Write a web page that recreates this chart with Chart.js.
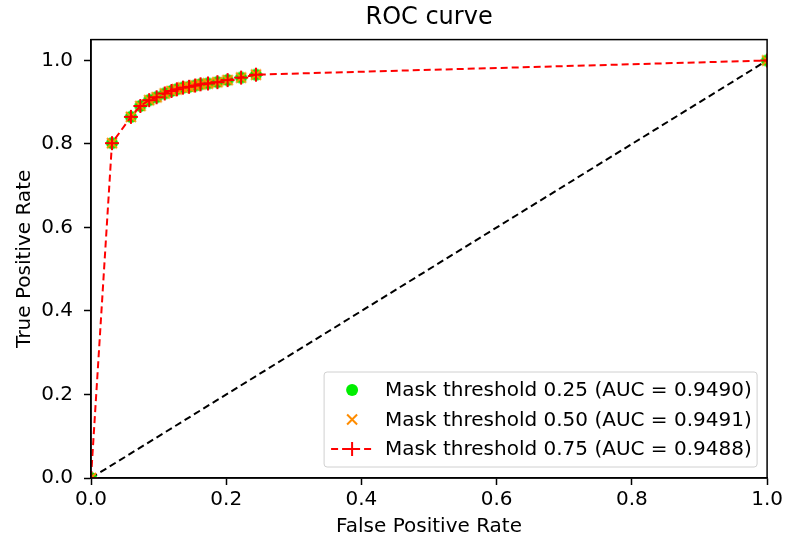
<!DOCTYPE html>
<html>
<head>
<meta charset="utf-8">
<script src="https://cdn.jsdelivr.net/npm/chart.js@4"></script>
<style>
  body { margin: 0; background: #fff; }
  canvas { display: block; }
</style>
</head>
<body>
<canvas id="roc" width="786" height="540"></canvas>
<script>
// ROC points (all three thresholds overlap)
const fpr = [0, 0.031, 0.059, 0.073, 0.086, 0.097, 0.109, 0.119, 0.127, 0.136, 0.145, 0.154, 0.162, 0.173, 0.187, 0.202, 0.222, 0.244, 1.0];
const tpr = [0, 0.802, 0.865, 0.891, 0.905, 0.912, 0.921, 0.927, 0.931, 0.935, 0.937, 0.940, 0.943, 0.945, 0.948, 0.953, 0.959, 0.966, 1.0];
const seriesLabels = [
    'Mask threshold 0.25 (AUC = 0.9490)',
    'Mask threshold 0.50 (AUC = 0.9491)',
    'Mask threshold 0.75 (AUC = 0.9488)'
];
const chanceX = [0, 1];
const chanceY = [0, 1];
const tickValues = [0, 0.2, 0.4, 0.6, 0.8, 1.0];

const FONT = 'DejaVu Sans';

function toPoints(xs, ys) {
    return xs.map((x, i) => ({ x: x, y: ys[i] }));
}

// draw a marker the same way for plot and legend
function marker(ctx, kind, x, y) {
    ctx.save();
    if (kind === 'circle') {
        ctx.fillStyle = '#00ee00';
        ctx.beginPath();
        ctx.arc(x, y, 6, 0, Math.PI * 2);
        ctx.fill();
    } else if (kind === 'cross') {
        ctx.strokeStyle = '#ff8c00';
        ctx.lineWidth = 2;
        ctx.beginPath();
        ctx.moveTo(x - 5, y - 5); ctx.lineTo(x + 5, y + 5);
        ctx.moveTo(x - 5, y + 5); ctx.lineTo(x + 5, y - 5);
        ctx.stroke();
    } else {
        ctx.strokeStyle = '#ff0000';
        ctx.lineWidth = 2;
        ctx.beginPath();
        ctx.moveTo(x - 7, y); ctx.lineTo(x + 7, y);
        ctx.moveTo(x, y - 7); ctx.lineTo(x, y + 7);
        ctx.stroke();
    }
    ctx.restore();
}

// frame + legend inside the plot, like matplotlib
const frameAndLegend = {
    id: 'frameAndLegend',
    afterDatasetsDraw(chart) {
        const { ctx, chartArea: a } = chart;
        ctx.save();
        ctx.strokeStyle = '#000';
        ctx.lineWidth = 1.5;
        ctx.strokeRect(a.left, a.top, a.right - a.left, a.bottom - a.top);
        ctx.restore();
    },
    afterDraw(chart) {
        const { ctx, chartArea: a } = chart;
        const boxW = 433, boxH = 95, rowH = 29.5;
        const x0 = a.right - 10 - boxW;
        const y0 = a.bottom - 11 - boxH;
        ctx.save();
        ctx.fillStyle = 'rgba(255,255,255,0.85)';
        ctx.strokeStyle = '#d0d0d0';
        ctx.lineWidth = 1;
        ctx.beginPath();
        ctx.roundRect(x0, y0, boxW, boxH, 3);
        ctx.fill();
        ctx.stroke();

        const kinds = ['circle', 'cross', 'plus'];
        ctx.font = '20px "' + FONT + '"';
        ctx.fillStyle = '#000';
        ctx.textBaseline = 'middle';
        ctx.textAlign = 'left';
        seriesLabels.forEach((lab, i) => {
            const cy = y0 + 18 + rowH * i;
            const mx = x0 + 28;
            if (kinds[i] === 'plus') {
                ctx.save();
                ctx.strokeStyle = '#ff0000';
                ctx.lineWidth = 2;
                ctx.setLineDash([7, 4]);
                ctx.beginPath();
                ctx.moveTo(x0 + 7, cy); ctx.lineTo(x0 + 48, cy);
                ctx.stroke();
                ctx.restore();
            }
            marker(ctx, kinds[i], mx, cy);
            ctx.fillText(lab, x0 + 61, cy + 1);
        });
        ctx.restore();
    }
};

function markerStyle(kind) {
    const c = document.createElement('canvas');
    c.width = 18; c.height = 18;
    marker(c.getContext('2d'), kind, 9, 9);
    return c;
}

const axisCommon = {
    type: 'linear',
    min: 0,
    grid: { drawOnChartArea: false, drawTicks: true, tickLength: 7, tickColor: '#000', tickWidth: 1.5 },
    border: { display: true, color: '#000', width: 1.5 },
    afterBuildTicks: (scale) => { scale.ticks = tickValues.map(v => ({ value: v })); }
};

new Chart(document.getElementById('roc'), {
    type: 'scatter',
    data: {
        datasets: [
            {
                label: seriesLabels[2],
                data: toPoints(fpr, tpr),
                showLine: true,
                borderColor: '#ff0000',
                borderWidth: 2,
                borderDash: [7, 4],
                pointStyle: markerStyle('plus'),
                pointRadius: 7,
                order: 1
            },
            {
                label: seriesLabels[1],
                data: toPoints(fpr, tpr),
                showLine: false,
                pointStyle: markerStyle('cross'),
                pointRadius: 6,
                order: 2
            },
            {
                label: seriesLabels[0],
                data: toPoints(fpr, tpr),
                showLine: false,
                pointStyle: markerStyle('circle'),
                pointRadius: 6,
                order: 3
            },
            {
                label: '',
                data: toPoints(chanceX, chanceY),
                showLine: true,
                borderColor: '#000',
                borderWidth: 2,
                borderDash: [7, 4],
                pointRadius: 0,
                order: 4
            }
        ]
    },
    options: {
        responsive: false,
        animation: false,
        layout: { padding: { left: 0, right: 18, top: 0, bottom: 0 } },
        plugins: {
            legend: { display: false },
            tooltip: { enabled: false },
            title: {
                display: true,
                text: 'ROC curve',
                fullSize: false,
                color: '#000',
                font: { family: FONT, size: 24, weight: 'normal', lineHeight: 1.2 },
                padding: { top: 3, bottom: 7.8 }
            }
        },
        scales: {
            x: Object.assign({}, axisCommon, {
                max: 1.0,
                ticks: { color: '#000', padding: 3, font: { family: FONT, size: 20 }, callback: v => v.toFixed(1) },
                title: { display: true, text: 'False Positive Rate', color: '#000', font: { family: FONT, size: 20 }, padding: { top: 2, bottom: 1 } },
                afterFit: (s) => { s.height = 62; }
            }),
            y: Object.assign({}, axisCommon, {
                max: 1.05,
                ticks: { color: '#000', padding: 11, font: { family: FONT, size: 20 }, callback: v => v.toFixed(1) },
                title: { display: true, text: 'True Positive Rate', color: '#000', font: { family: FONT, size: 20 }, padding: { top: 13, bottom: 4 } },
                afterFit: (s) => { s.width = 91; }
            })
        }
    },
    plugins: [frameAndLegend]
});
</script>
</body>
</html>
